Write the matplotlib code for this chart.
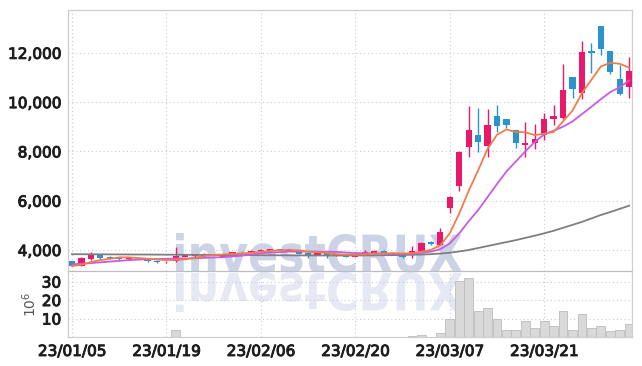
import matplotlib.pyplot as plt
import matplotlib.patheffects as pe
from matplotlib.textpath import TextPath
from matplotlib.patches import PathPatch
from matplotlib.font_manager import FontProperties
from matplotlib.transforms import Affine2D

# daily candles, 23/01/05 .. end of March (trading days only)
opens = [3550, 3370, 3620, 3840, 3730, 3700, 3620, 3680, 3640, 3570,
         3500, 3570, 3720, 3740, 3770, 3840, 3730, 3810, 3930, 3890,
         3920, 3960, 4040, 3960, 3970, 3890, 3800, 3870, 3770, 3800,
         3730, 3800, 3870, 3970, 3890, 3830, 3800, 3960, 4340, 4200,
         5690, 6600, 8190, 8670, 8220, 9440, 9330, 8870, 8240, 8350,
         8660, 9310, 9360, 11000, 10380, 12090, 13090, 12070, 10940, 10630]
highs = [3560, 3700, 3930, 3850, 3740, 3710, 3710, 3690, 3650, 3580,
         3560, 4110, 3800, 3850, 3860, 3850, 3850, 3920, 3940, 3980,
         4030, 4040, 4050, 4050, 3980, 3900, 3900, 3880, 3850, 3810,
         3810, 4010, 3980, 3980, 3900, 3840, 4160, 4310, 4350, 4890,
         6180, 8000, 9850, 9760, 9720, 9900, 9330, 8870, 9200, 9110,
         9570, 9880, 11550, 11000, 12480, 12400, 13100, 12070, 11500, 11840]
lows = [3360, 3360, 3610, 3620, 3650, 3600, 3610, 3660, 3530, 3490,
        3480, 3500, 3710, 3730, 3760, 3800, 3720, 3800, 3900, 3880,
        3910, 3950, 3980, 3950, 3830, 3690, 3790, 3660, 3760, 3700,
        3720, 3790, 3860, 3860, 3790, 3670, 3690, 3950, 4220, 4190,
        5500, 6390, 7770, 7980, 7770, 8800, 8950, 8140, 7770, 8100,
        8460, 9070, 9300, 10170, 10140, 11180, 11910, 11140, 10290, 10180]
closes = [3370, 3690, 3800, 3690, 3670, 3650, 3700, 3670, 3540, 3510,
          3530, 3760, 3780, 3830, 3840, 3810, 3840, 3900, 3910, 3970,
          4020, 4030, 3990, 4040, 3840, 3800, 3890, 3800, 3840, 3730,
          3800, 3930, 3970, 3870, 3800, 3730, 3970, 4290, 4230, 4720,
          6160, 7990, 8870, 8390, 9070, 9040, 9070, 8350, 8350, 8500,
          9310, 9440, 10490, 10530, 12050, 12010, 12140, 11240, 10330, 11260]

# moving averages as drawn (5, 10, 60 days)
ma5 = [3350, 3400, 3510, 3590, 3644, 3700, 3702, 3676, 3646, 3614,
       3590, 3602, 3624, 3682, 3748, 3804, 3820, 3844, 3860, 3886,
       3928, 3966, 3984, 4010, 3984, 3940, 3912, 3874, 3834, 3812,
       3812, 3820, 3854, 3860, 3874, 3860, 3868, 3932, 4004, 4188,
       4674, 5478, 6394, 7226, 8096, 8672, 8888, 8784, 8776, 8662,
       8716, 8790, 9218, 9654, 10364, 10904, 11444, 11594, 11554, 11396]
ma10 = [3420, 3440, 3470, 3500, 3530, 3560, 3590, 3610, 3625, 3629,
        3645, 3652, 3650, 3664, 3681, 3697, 3711, 3734, 3771, 3817,
        3866, 3893, 3914, 3935, 3935, 3934, 3939, 3929, 3922, 3898,
        3876, 3866, 3864, 3847, 3843, 3836, 3844, 3893, 3932, 4031,
        4267, 4673, 5163, 5615, 6142, 6673, 7183, 7589, 8001, 8379,
        8694, 8839, 9001, 9215, 9513, 9810, 10117, 10406, 10604, 10880]
ma60 = [3830, 3828, 3826, 3825, 3823, 3821, 3819, 3817, 3815, 3813,
        3811, 3809, 3806, 3804, 3801, 3799, 3797, 3795, 3793, 3791,
        3789, 3787, 3785, 3783, 3781, 3780, 3779, 3778, 3777, 3777,
        3778, 3780, 3783, 3787, 3792, 3798, 3806, 3816, 3830, 3855,
        3890, 3940, 4000, 4080, 4160, 4240, 4320, 4400, 4490, 4580,
        4676, 4780, 4900, 5020, 5140, 5280, 5420, 5540, 5670, 5798]

# volume, millions of shares
volume = [0.1, 0.1, 0.1, 0.1, 0.1, 0.1, 0.1, 0.1, 0.1, 0.1,
          0.1, 4.0, 0.1, 0.1, 0.1, 0.1, 0.1, 0.1, 0.1, 0.1,
          0.1, 0.1, 0.1, 0.1, 0.1, 0.1, 0.1, 0.1, 0.1, 0.1,
          0.1, 0.1, 0.1, 0.1, 0.1, 0.1, 0.6, 1.2, 0.2, 2.4,
          9.5, 30.5, 32.0, 14.3, 15.8, 9.5, 3.9, 3.9, 8.4, 4.6,
          8.9, 5.7, 14.3, 3.9, 12.7, 5.1, 5.7, 3.5, 3.9, 6.8]

tick_pos = [0, 10, 20, 30, 40, 50]
tick_labels = ['23/01/05', '23/01/19', '23/02/06', '23/02/20', '23/03/07', '23/03/21']
price_ticks = [4000, 6000, 8000, 10000, 12000]
vol_ticks = [10, 20, 30]

UP = '#e8196a'
DOWN = '#2b94cd'
GRID = '#c5cadf'
SPINE = '#cfcfcf'
FONT = ['Liberation Sans Narrow', 'DejaVu Sans']
# narrow font thickened a little to look semi-bold
thick = [pe.withStroke(linewidth=0.7, foreground='#1e1e1e')]

fig = plt.figure(figsize=(6.42, 3.66), dpi=100)
fig.patch.set_facecolor('white')

# watermark layer behind the charts
bg = fig.add_axes([0, 0, 1, 1], zorder=0)
bg.set_xlim(0, 642)
bg.set_ylim(366, 0)
bg.axis('off')
tp = TextPath((0, 0), 'investCRUX', size=1,
              prop=FontProperties(family='DejaVu Sans', weight='bold'))
ext = tp.get_extents()
sx = (462 - 176) / ext.width
sy = (272 - 233) / ext.y1
mark = Affine2D().translate(-ext.x0, 0).scale(sx, -sy).translate(176, 272)
bg.add_patch(PathPatch(mark.transform_path(tp), fc='#cdd3e6', ec='none'))
refl = Affine2D().translate(-ext.x0, 0).scale(sx, sy).translate(176, 273)
bg.add_patch(PathPatch(refl.transform_path(tp), fc='#e6e9f3', ec='none'))

ax = fig.add_axes([68 / 642, 95 / 366, 564 / 642, 261 / 366], zorder=1)
vax = fig.add_axes([68 / 642, 29 / 366, 564 / 642, 66 / 366], zorder=1, sharex=ax)

for a in (ax, vax):
    a.set_facecolor('none')
    for s in a.spines.values():
        s.set_color(SPINE)
        s.set_linewidth(0.9)
    a.grid(True, color=GRID, linestyle=(0, (1, 2.5)), linewidth=0.8)
    a.tick_params(length=0, labelsize=11, colors='#1e1e1e', pad=5)
    a.set_axisbelow(True)
ax.spines['bottom'].set_color('#bdbdbd')

n = len(closes)
x = list(range(n))
for i in x:
    o, h, l, c = opens[i], highs[i], lows[i], closes[i]
    col = UP if c >= o else DOWN
    ax.vlines(i, l, h, color=col, linewidth=1.0, zorder=2)
    body = max(abs(c - o), 25)
    ax.bar(i, body, bottom=min(o, c), width=0.66, color=col, linewidth=0, zorder=3)

ax.plot(x, ma60, color='#7f7f7f', linewidth=1.3, zorder=4)
ax.plot(x, ma10, color='#c85ae6', linewidth=1.3, zorder=4)
ax.plot(x, ma5, color='#ef7d4c', linewidth=1.3, zorder=5)

ax.set_ylim(3148, 13736)
ax.set_yticks(price_ticks)
ax.set_yticklabels([f'{v:,}' for v in price_ticks], family=FONT)
ax.tick_params(axis='x', labelbottom=False)

vax.bar(x, volume, width=0.94, color='#d9d9d9', edgecolor='#bdbdbd', linewidth=0.6, zorder=2)
vax.set_ylim(0, 35.7)
vax.set_yticks(vol_ticks)
vax.set_yticklabels([str(v) for v in vol_ticks], family=FONT)
vax.set_xlim(-0.42, 59.3)
vax.set_xticks(tick_pos)
vax.set_xticklabels(tick_labels, family=FONT)
vax.spines['top'].set_visible(False)
vax.set_ylabel('10$^{6}$', color='#555555', fontsize=10, labelpad=2)

for lab in ax.get_yticklabels() + vax.get_yticklabels() + vax.get_xticklabels():
    lab.set_path_effects(thick)

fig.savefig('out.png', dpi=100)
